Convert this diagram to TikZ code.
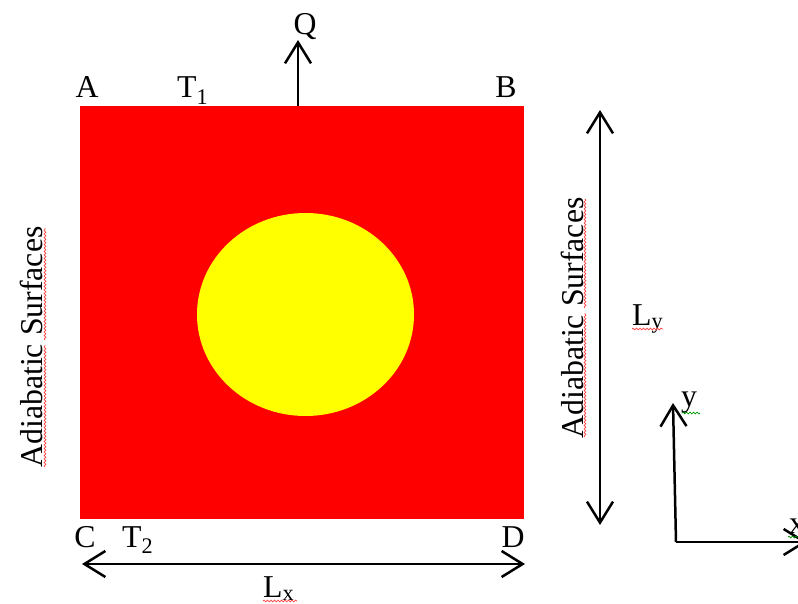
\documentclass[tikz,border=0pt]{standalone}
\usepackage{fontspec}
\setmainfont{Liberation Serif}
\usetikzlibrary{arrows.meta,shapes.geometric,decorations.pathmorphing}
\begin{document}
\begin{tikzpicture}[x=1pt,y=-1pt,
  lbl/.style={font=\fontsize{31.8}{38}\selectfont, inner sep=0pt, anchor=base},
  lblw/.style={lbl, anchor=base west},
  barb/.tip={Straight Barb[length=21pt,width=26pt]},
  arr/.style={line width=2.5pt, -barb},
  dimline/.style={line width=2.5pt, barb-barb},
  spell/.style={line width=0.7pt, decorate, decoration={snake,amplitude=0.9pt,segment length=3.5pt}},
]
\useasboundingbox (0,0) rectangle (798,604);
\clip (0,0) rectangle (798,604);

% plate and hole
\node[fill=red, minimum width=444pt, minimum height=413pt, inner sep=0pt, anchor=north west] (plate) at (80,106) {};
\node[ellipse, fill={rgb,1:red,1;green,1;blue,0}, minimum width=217pt, minimum height=203pt, inner sep=0pt] (hole) at (305.5,314.5) {};

% corner and temperature labels
\node[lbl] (A) at (87,98) {A};
\node[lblw] (T1) at (177,98) {T\textsubscript{1}};
\node[lbl] (B) at (506,98) {B};
\node[lbl] (C) at (85,547) {C};
\node[lblw] (T2) at (122,547) {T\textsubscript{2}};
\node[lbl] (D) at (513,547) {D};

% heat flow
\coordinate (qbase) at (298,106);
\coordinate (qtip) at (298,40);
\draw[arr] (qbase) -- (qtip);
\node[lbl] (Q) at (305,35) {Q};

% adiabatic surfaces
\node[lbl, rotate=90] (adL) at (42,347) {Adiabatic Surfaces};
\node[lbl, rotate=90] (adR) at (583,318) {Adiabatic Surfaces};

% dimension lines
\coordinate (lxl) at (82,564);
\coordinate (lxr) at (525,564);
\draw[dimline] (lxl) -- (lxr);
\node[lblw] (Lx) at (263,597) {L\textsubscript{x}};

\coordinate (lyt) at (600,110);
\coordinate (lyb) at (600,525);
\draw[dimline] (lyt) -- (lyb);
\node[lblw] (Ly) at (632,325) {L\textsubscript{y}};

% axes
\coordinate (o) at (676,542);
\coordinate (ytip) at (673,403);
\coordinate (xtip) at (807,542);
\draw[line width=2.5pt, -barb] (o) -- (ytip);
\draw[line width=2.5pt, -barb] (o) -- (xtip);
\node[lblw] (ylab) at (681,406) {y};
\node[lblw] (xlab) at (789,533) {x};

% spell-check marks
\draw[spell, red!75] (45,467) -- (45,345);
\draw[spell, red!75] (45,340) -- (45,228);
\draw[spell, red!75] (585,437) -- (585,313);
\draw[spell, red!75] (585,308) -- (585,199);
\draw[spell, red!75] (263,601) -- (297,601);
\draw[spell, red!75] (632,329) -- (663,329);
\draw[spell, green!60!black] (682,413) -- (700,413);
\draw[spell, green!60!black] (788,537) -- (798,537);
\end{tikzpicture}
\end{document}
